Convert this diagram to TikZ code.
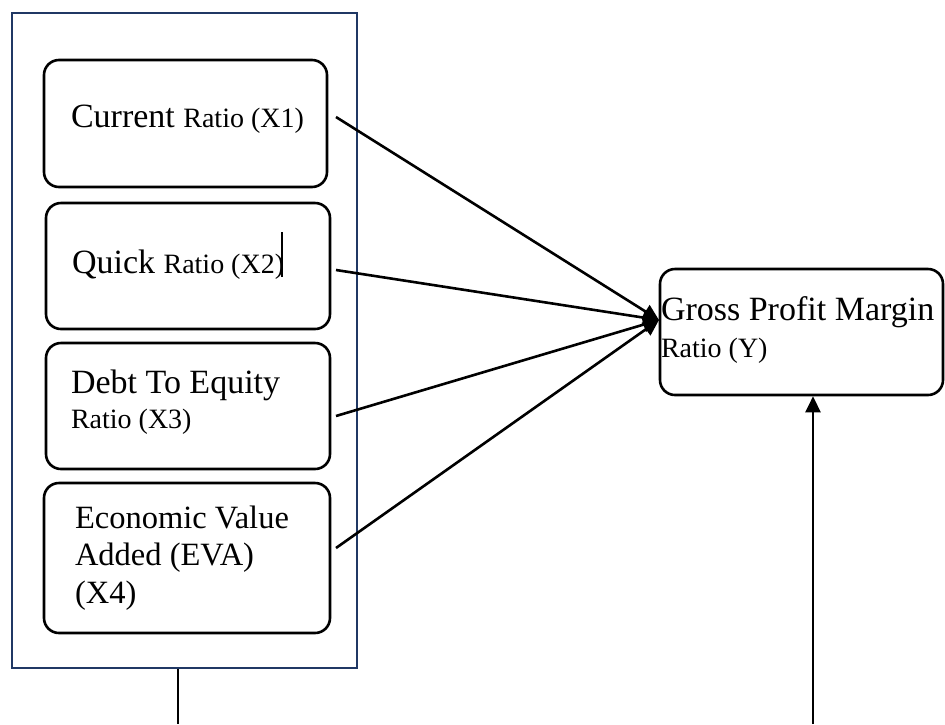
\documentclass[tikz,border=0pt]{standalone}
\usepackage{fontspec}
\setmainfont{Liberation Serif}
\usetikzlibrary{arrows.meta}
\definecolor{framenavy}{HTML}{203864}
\tikzset{
  varbox/.style={draw=black, line width=2.6pt, rounded corners=15pt, inner sep=0pt},
  txt/.style={anchor=base west, inner sep=0pt, outer sep=0pt},
  arr/.style={line width=2.6pt, -{Triangle[length=16pt,width=15pt]}},
  plain/.style={line width=2.6pt},
}
\newcommand{\bigf}{\fontsize{34}{37}\selectfont}
\newcommand{\midf}{\fontsize{32.5}{37}\selectfont}
\newcommand{\smallf}{\fontsize{28}{37}\selectfont}
\begin{document}
\begin{tikzpicture}[x=1pt,y=-1pt]
\useasboundingbox (0,0) rectangle (945,724);
% outer frame
\node[draw=framenavy, line width=2.6pt, minimum width=345pt, minimum height=655pt, inner sep=0pt] (frame) at (184.5,340.5) {};
% variable boxes
\node[varbox, minimum width=283pt, minimum height=127pt] (b1) at (185.5,123.5) {};
\node[varbox, minimum width=284pt, minimum height=126pt] (b2) at (188,266) {};
\node[varbox, minimum width=284pt, minimum height=126pt] (b3) at (188,406) {};
\node[varbox, minimum width=286pt, minimum height=150pt] (b4) at (187,558) {};
\node[varbox, minimum width=283pt, minimum height=126pt] (gpm) at (801.5,332) {};
% texts
\node[txt] (t1) at (71,127) {\bigf Current \smallf Ratio (X1)};
\node[txt] (t2) at (72,273) {\bigf Quick \smallf Ratio (X2)};
\draw[line width=1.6pt] (282,232) -- (282,277);
\node[txt] (t3a) at (71,393) {\bigf Debt To Equity};
\node[txt] (t3b) at (71,428) {\smallf Ratio (X3)};
\node[txt] (t4a) at (75,528) {\midf Economic Value};
\node[txt] (t4b) at (75,565) {\midf Added (EVA)};
\node[txt] (t4c) at (75,603) {\midf (X4)};
\node[txt] (ty1) at (661,320) {\bigf Gross Profit Margin};
\node[txt] (ty2) at (661,357) {\smallf Ratio (Y)};
% connectors
\coordinate (s1) at (336,117);
\coordinate (s2) at (336,270);
\coordinate (s3) at (336,416);
\coordinate (s4) at (336,548);
\coordinate (tgt) at (659,320);
\draw[arr] (s1) -- (tgt);
\draw[arr] (s2) -- (tgt);
\draw[arr] (s3) -- (tgt);
\draw[arr] (s4) -- (tgt);
\coordinate (e1) at (178,724);
\coordinate (e2) at (813,724);
\draw[plain] (e1 |- frame.south) -- (e1);
\draw[arr] (e2) -- (e2 |- gpm.south);
\end{tikzpicture}
\end{document}
